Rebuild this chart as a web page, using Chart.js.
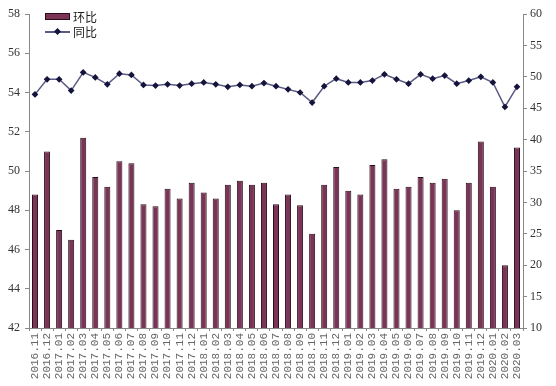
<!DOCTYPE html>
<html>
<head>
<meta charset="utf-8">
<script src="https://cdn.jsdelivr.net/npm/chart.js@4"></script>
<style>
    body { margin: 0; background: #fff; }
    #wrap { position: relative; width: 556px; height: 386px; }
    #legend { position: absolute; left: 45px; top: 9px; font-family: "Noto Sans CJK SC", sans-serif; font-size: 12px; color: #222; line-height: 15px; }
    .row { display: flex; align-items: center; height: 15px; }
    .swatch { width: 25px; height: 7px; background: #7a3456; border: 1px solid #2a0c1a; box-sizing: border-box; margin-right: 3px; }
    .lineKey { position: relative; width: 25px; height: 2px; background: #5a5a85; margin-right: 3px; }
    .lineKey span { position: absolute; left: 10px; top: -2px; width: 5px; height: 5px; background: #14143c; transform: rotate(45deg); }
</style>
</head>
<body>
<div id="wrap">
    <canvas id="chart" width="556" height="386"></canvas>
    <div id="legend">
        <div class="row"><div class="swatch"></div>环比</div>
        <div class="row"><div class="lineKey"><span></span></div>同比</div>
    </div>
</div>
<script>
const months = [
    '2016.11', '2016.12', '2017.01', '2017.02', '2017.03', '2017.04', '2017.05', '2017.06', '2017.07', '2017.08',
    '2017.09', '2017.10', '2017.11', '2017.12', '2018.01', '2018.02', '2018.03', '2018.04', '2018.05', '2018.06',
    '2018.07', '2018.08', '2018.09', '2018.10', '2018.11', '2018.12', '2019.01', '2019.02', '2019.03', '2019.04',
    '2019.05', '2019.06', '2019.07', '2019.08', '2019.09', '2019.10', '2019.11', '2019.12', '2020.01', '2020.02',
    '2020.03'
];

// 环比 (left axis)
const momValues = [
    48.8, 51.0, 47.0, 46.5, 51.7, 49.7, 49.2, 50.5, 50.4, 48.3,
    48.2, 49.1, 48.6, 49.4, 48.9, 48.6, 49.3, 49.5, 49.3, 49.4,
    48.3, 48.8, 48.25, 46.8, 49.3, 50.2, 49.0, 48.8, 50.3, 50.6,
    49.1, 49.2, 49.7, 49.4, 49.6, 48.0, 49.4, 51.5, 49.2, 45.2,
    51.2
];

// 同比 (right axis)
const yoyValues = [
    47.2, 49.6, 49.6, 47.8, 50.7, 49.9, 48.8, 50.5, 50.3, 48.7,
    48.6, 48.8, 48.6, 48.9, 49.1, 48.8, 48.4, 48.7, 48.5, 49.0,
    48.5, 48.0, 47.5, 45.9, 48.5, 49.7, 49.1, 49.1, 49.4, 50.4,
    49.6, 48.9, 50.4, 49.7, 50.2, 48.9, 49.4, 50.0, 49.1, 45.2,
    48.4
];

const axisColor = '#888';
const tickFont = { family: 'Liberation Serif', size: 12 };

new Chart(document.getElementById('chart'), {
    type: 'bar',
    data: {
        labels: months,
        datasets: [
            {
                type: 'line',
                label: '同比',
                data: yoyValues,
                yAxisID: 'y1',
                borderColor: '#5a5a85',
                borderWidth: 1.5,
                pointStyle: 'rectRot',
                pointRadius: 2.3,
                pointBackgroundColor: '#14143c',
                pointBorderColor: '#14143c',
                tension: 0,
                order: 0
            },
            {
                label: '环比',
                data: momValues,
                yAxisID: 'y',
                backgroundColor: '#7a3456',
                borderColor: '#2a0c1a',
                borderWidth: 1,
                barPercentage: 0.5,
                categoryPercentage: 1,
                order: 1
            }
        ]
    },
    options: {
        responsive: false,
        animation: false,
        layout: { padding: { top: 14, left: 0, right: 0, bottom: 0 } },
        plugins: {
            legend: { display: false },
            tooltip: { enabled: false }
        },
        scales: {
            x: {
                grid: { drawOnChartArea: false, tickLength: 3, color: axisColor },
                border: { color: axisColor },
                ticks: {
                    autoSkip: false,
                    minRotation: 90,
                    maxRotation: 90,
                    padding: 2,
                    color: '#666',
                    font: { family: 'Liberation Mono', size: 11 }
                },
                afterFit: s => { s.height = 58; }
            },
            y: {
                position: 'left',
                min: 42,
                max: 58,
                grid: { drawOnChartArea: false, tickLength: 4, color: axisColor },
                border: { color: axisColor },
                ticks: { stepSize: 2, padding: 5, color: '#333', font: tickFont },
                afterFit: s => { s.width = 29; }
            },
            y1: {
                position: 'right',
                min: 10,
                max: 60,
                grid: { drawOnChartArea: false, tickLength: 4, color: axisColor },
                border: { color: axisColor },
                ticks: { stepSize: 5, padding: 3, color: '#333', font: tickFont },
                afterFit: s => { s.width = 33; }
            }
        }
    }
});
</script>
</body>
</html>
